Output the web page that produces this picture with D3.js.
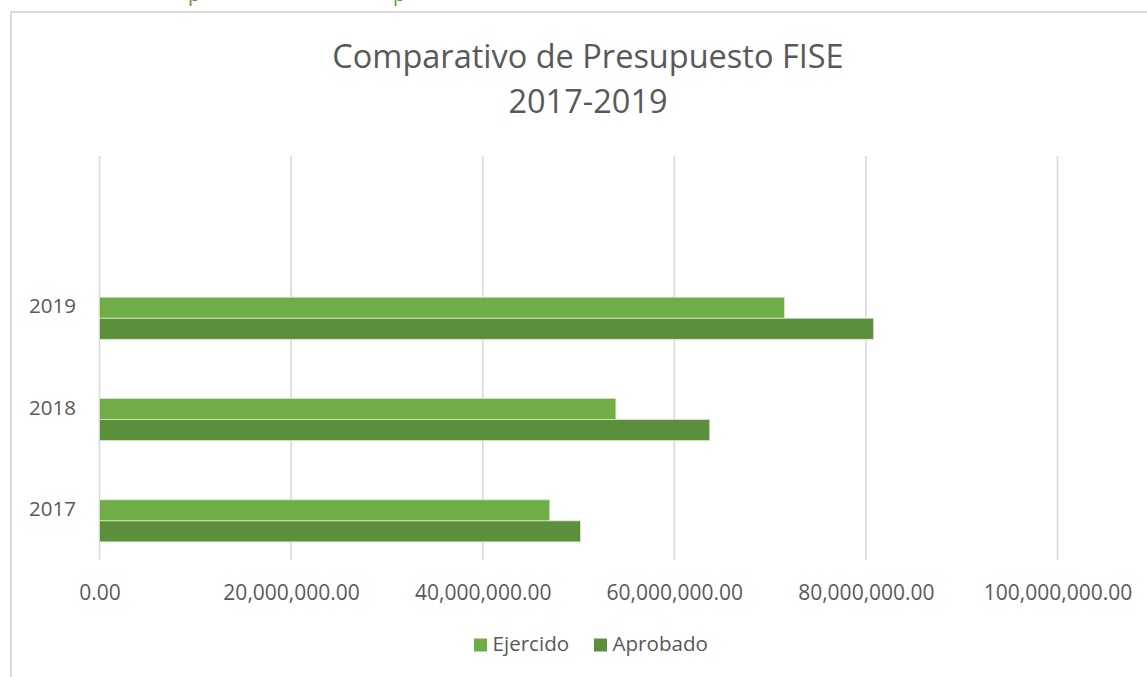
<!DOCTYPE html>
<html><head><meta charset="utf-8">
<script src="https://cdn.jsdelivr.net/npm/d3@7"></script>
<style>html,body{margin:0;padding:0;background:#fff;overflow:hidden}</style>
</head><body>
<svg id="c" width="1147" height="677"></svg>
<script>
const categories = ["2019", "2018", "2017"];
const seriesNames = ["Ejercido", "Aprobado"];
const ejercido = [71500000, 53900000, 47000000];
const aprobado = [80800000, 63700000, 50200000];
const xTicks = [0, 20000000, 40000000, 60000000, 80000000, 100000000];
const titleLines = ["Comparativo de Presupuesto FISE", "2017-2019"];
const colors = ["#70ad47", "#5b8f3b"];

const svg = d3.select("#c");
const font = "'Open Sans', sans-serif";
const textColor = "#595959";

// cut-off text fragments at very top
svg.append("text").attr("x", 188).attr("y", 1).attr("font-family", font).attr("font-size", 20).attr("fill", "#5b9b3a").text("p");
svg.append("text").attr("x", 393).attr("y", 1).attr("font-family", font).attr("font-size", 20).attr("fill", "#5b9b3a").text("p");

// chart border
svg.append("rect").attr("x", 11).attr("y", 12).attr("width", 1200).attr("height", 700)
  .attr("fill", "none").attr("stroke", "#d9d9d9").attr("stroke-width", 2);

// title
svg.selectAll("text.title").data(titleLines).enter().append("text")
  .attr("class", "title")
  .attr("x", 588).attr("y", (d, i) => 68 + i * 45)
  .attr("text-anchor", "middle").attr("font-family", font).attr("font-size", 32.5)
  .attr("fill", textColor).text(d => d);

const x = d3.scaleLinear().domain([0, 100000000]).range([99.5, 1057.5]);
const y = d3.scaleBand().domain(categories).range([267.6, 571.5]).paddingInner(0.585).paddingOuter(0.2925);
const gridTop = 156, gridBottom = 560;

// gridlines
svg.append("g").selectAll("line").data(xTicks).enter().append("line")
  .attr("x1", d => x(d)).attr("x2", d => x(d))
  .attr("y1", gridTop).attr("y2", gridBottom)
  .attr("stroke", "#d9d9d9").attr("stroke-width", 1.6);

// x axis labels
const fmt = d3.format(",.2f");
const xAxis = d3.axisBottom(x).tickValues(xTicks).tickFormat(fmt).tickSize(0).tickPadding(0);
const gx = svg.append("g").attr("transform", `translate(0,${600})`).call(xAxis);
gx.select(".domain").remove();
gx.selectAll("text").attr("dy", 0).attr("y", 0).attr("font-family", font).attr("font-size", 21).attr("fill", textColor);

// bars
const bh = y.bandwidth() / 2;
const data = categories.map((c, i) => ({ c, vals: [ejercido[i], aprobado[i]] }));
const g = svg.append("g");
data.forEach(d => {
  d.vals.forEach((v, j) => {
    g.append("rect")
      .attr("x", x(0)).attr("y", y(d.c) + j * bh)
      .attr("width", x(v) - x(0)).attr("height", bh)
      .attr("fill", colors[j]).attr("stroke", "#d6e9c9").attr("stroke-width", 0.8);
  });
});

// y labels
const yAxis = d3.axisLeft(y).tickSize(0).tickPadding(0);
const gy = svg.append("g").attr("transform", "translate(76,0)").call(yAxis);
gy.select(".domain").remove();
gy.selectAll("text").attr("dy", "-0.02em").attr("x", 0)
  .attr("transform", "translate(0,6)")
  .attr("dominant-baseline", "auto")
  .attr("font-family", font).attr("font-size", 20.5).attr("fill", textColor);
gy.selectAll(".tick").each(function(d){
  d3.select(this).select("text").attr("y", -4.5).attr("transform", null);
});

// legend
const legendX = [474, 594];
const lg = svg.append("g");
seriesNames.forEach((n, i) => {
  lg.append("rect").attr("x", legendX[i]).attr("y", 638.5).attr("width", 13).attr("height", 13).attr("fill", colors[i]);
  lg.append("text").attr("x", legendX[i] + 18.5).attr("y", 651).attr("font-family", font).attr("font-size", 20.6)
    .attr("fill", textColor).text(n);
});
</script>
</body></html>
